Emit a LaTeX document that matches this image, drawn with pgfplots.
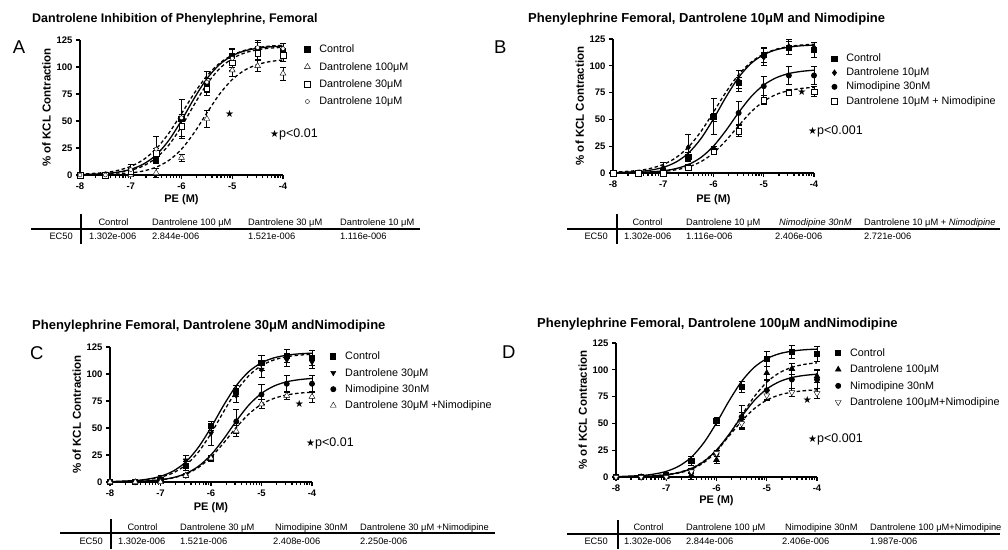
\documentclass[border=0pt]{standalone}
\usepackage{fontspec}
\setmainfont{Liberation Sans}
\newfontfamily\starfont{DejaVu Sans}
\usepackage{pgfplots}
\usepackage{pgfplotstable}
\pgfplotsset{compat=1.18}

% fitted curves
\pgfplotstableread{
x y
-8 0.35
-7.5 1.37
-7.25 2.70
-7 5.26
-6.75 10.1
-6.5 18.5
-6.25 32.1
-6 50.5
-5.75 71.0
-5.5 89.2
-5.25 102.3
-5 110.4
-4.75 115.0
-4.5 117.4
-4.25 118.7
-4 119.3
}\ctrlF
\pgfplotstableread{
x y
-8 0.67
-7.5 2.35
-7.25 4.35
-7 7.96
-6.75 14.2
-6.5 24.2
-6.25 38.7
-6 56.8
-5.75 75.6
-5.5 91.8
-5.25 103.5
-5 111.0
-4.75 115.5
-4.5 118.0
-4.25 119.4
-4 120.1
}\dtenF
\pgfplotstableread{
x y
-8 0.29
-7.5 1.13
-7.25 2.24
-7 4.38
-6.75 8.43
-6.5 15.7
-6.25 27.7
-6 44.9
-5.75 65.1
-5.5 84.1
-5.25 98.5
-5 107.8
-4.75 113.1
-4.5 116.0
-4.25 117.5
-4 118.2
}\dthirtyF
\pgfplotstableread{
x y
-8 0.12
-7.5 0.49
-7.25 0.97
-7 1.91
-6.75 3.74
-6.5 7.22
-6.25 13.5
-6 23.9
-5.75 39.2
-5.5 57.4
-5.25 74.9
-5 88.4
-4.75 97.2
-4.5 102.3
-4.25 105.1
-4 106.5
}\dhundredF
\pgfplotstableread{
x y
-8 0.13
-7.5 0.53
-7.25 1.06
-7 2.09
-6.75 4.08
-6.5 7.82
-6.25 14.5
-6 25.1
-5.75 39.8
-5.5 56.4
-5.25 71.3
-5 82.1
-4.75 88.9
-4.5 92.8
-4.25 94.8
-4 95.9
}\nimF
\pgfplotstableread{
x y
-8 0.10
-7.5 0.38
-7.25 0.76
-7 1.51
-6.75 2.96
-6.5 5.70
-6.25 10.6
-6 18.7
-5.75 30.4
-5.5 44.1
-5.25 57.1
-5 66.9
-4.75 73.3
-4.5 76.9
-4.25 78.9
-4 79.9
}\dtenNimF
\pgfplotstableread{
x y
-8 0.12
-7.5 0.50
-7.25 0.99
-7 1.96
-6.75 3.82
-6.5 7.30
-6.25 13.4
-6 23.1
-5.75 36.1
-5.5 50.5
-5.25 63.0
-5 72.0
-4.75 77.5
-4.5 80.6
-4.25 82.3
-4 83.1
}\dthirtyNimF
\pgfplotstableread{
x y
-8 0.14
-7.5 0.57
-7.25 1.12
-7 2.21
-6.75 4.29
-6.5 8.13
-6.25 14.8
-6 25.0
-5.75 38.3
-5.5 52.1
-5.25 63.7
-5 71.7
-4.75 76.5
-4.5 79.1
-4.25 80.5
-4 81.3
}\dhundredNimF

% mean +/- error
\pgfplotstableread{
x y e
-8 0 0
-7.5 0 0
-7 2 2
-6.5 15 4
-6 52 4
-5.5 84 5
-5 110 7
-4.5 117 6
-4 115 7
}\ctrlP
\pgfplotstableread{
x y e
-8 0 0
-7.5 0 0
-7 5 5
-6.5 24 12
-6 53 17
-5.5 86 10
-5 108 8
-4.5 118 7
-4 117 5
}\dtenP
\pgfplotstableread{
x y e
-8 0 0
-7.5 0 0
-7 3 3
-6.5 20 5
-6 45 11
-5.5 80 6
-5 104 7
-4.5 113 6
-4 111 6
}\dthirtyP
\pgfplotstableread{
x y e
-8 0 0
-7.5 0 0
-7 0 1
-6.5 2 4
-6 16 3
-5.5 52 8
-5 97 6
-4.5 101 5
-4 94 6
}\dhundredP
\pgfplotstableread{
x y e
-8 0 0
-7.5 0 0
-7 1 1
-6.5 6 2
-6 22 3
-5.5 56 11
-5 81 9
-4.5 91 8
-4 91 8
}\nimP
\pgfplotstableread{
x y e
-8 0 0
-7.5 0 0
-7 0 1
-6.5 5 2
-6 20 3
-5.5 39 5
-5 68 4
-4.5 75 3
-4 76 5
}\dtenNimP
\pgfplotstableread{
x y e
-8 0 0
-7.5 0 0
-7 0 1
-6.5 6 2
-6 22 2
-5.5 47 5
-5 72 4
-4.5 80 4
-4 79 5
}\dthirtyNimP
\pgfplotstableread{
x y e
-8 0 0
-7.5 0 0
-7 0 1
-6.5 5 2
-6 22 3
-5.5 50 4
-5 76 5
-4.5 79 4
-4 78 5
}\dhundredNimP

\pgfplotsset{
  panel/.style={
    scale only axis, xmin=-8, xmax=-4, ymin=0, ymax=125,
    axis x line*=bottom, axis y line*=left,
    axis line style={line width=2pt, -},
    xtick={-8,-7,-6,-5,-4}, ytick={0,25,50,75,100,125},
    minor xtick={-7.699,-7.523,-7.398,-7.301,-7.222,-7.155,-7.097,-7.046,
      -6.699,-6.523,-6.398,-6.301,-6.222,-6.155,-6.097,-6.046,
      -5.699,-5.523,-5.398,-5.301,-5.222,-5.155,-5.097,-5.046,
      -4.699,-4.523,-4.398,-4.301,-4.222,-4.155,-4.097,-4.046},
    tick align=outside, major tick length=4pt, minor tick length=3pt,
    tick style={black, line width=1.3pt},
    /pgf/number format/assume math mode=true,
    tick label style={font=\fontsize{9.5}{10}\selectfont\bfseries},
    clip=false,
    xlabel={PE (M)}, ylabel={\% of KCL Contraction},
    xlabel style={font=\fontsize{11}{12}\selectfont\bfseries, anchor=center},
    ylabel style={font=\fontsize{11.5}{13}\selectfont\bfseries, at={(axis description cs:-0.165,0.5)}, anchor=center},
    legend style={draw=none, fill=none, anchor=north west, font=\fontsize{10.8}{13}\selectfont,
      row sep=3pt, column sep=7pt},
    legend cell align=left,
  },
  pts/.style={only marks, black, mark options={solid, line width=0.9pt},
    error bars/y dir=both, error bars/y explicit,
    error bars/error bar style={line width=0.9pt, black},
    error bars/error mark options={rotate=90, mark size=3pt, line width=0.9pt, black}},
  fitsolid/.style={black, line width=1.3pt, smooth, no marks, forget plot},
  fitdash/.style={black, line width=1.3pt, smooth, no marks, dash pattern=on 3.5pt off 2.5pt, forget plot},
}
\tikzset{
  ttl/.style={font=\fontsize{13}{15}\selectfont\bfseries, inner sep=0pt},
  let/.style={font=\fontsize{18.5}{20}\selectfont, inner sep=0pt},
  tab/.style={font=\fontsize{9.3}{11}\selectfont, inner sep=0pt},
  pval/.style={font=\fontsize{12.5}{14}\selectfont, inner sep=0pt, anchor=base west},
  star/.style={font=\starfont\fontsize{10}{10}\selectfont, inner sep=0pt},
}

\begin{document}
\begin{tikzpicture}[x=1pt,y=1pt]
\useasboundingbox (0,0) rectangle (1008,-549);

% ---- A ----
\begin{axis}[panel, anchor=south west, at={(80pt,-175pt)}, width=203pt, height=135pt,
  xlabel style={at={(axis description cs:0.5,-0.185)}},
  legend style={at={(axis description cs:1.09,0.995)}, row sep=4pt}]
\addplot[fitsolid] table[x=x,y=y] {\ctrlF};
\addplot[fitdash] table[x=x,y=y] {\dhundredF};
\addplot[fitdash] table[x=x,y=y] {\dthirtyF};
\addplot[fitdash] table[x=x,y=y] {\dtenF};
\addplot[pts, mark=square*, mark size=2.6pt] table[x=x,y=y,y error=e] {\ctrlP};
\addlegendentry{Control}
\addplot[pts, mark=triangle*, mark size=3.4pt, mark options={fill=white}] table[x=x,y=y,y error=e] {\dhundredP};
\addlegendentry{Dantrolene 100μM}
\addplot[pts, mark=square*, mark size=2.8pt, mark options={fill=white}] table[x=x,y=y,y error=e] {\dthirtyP};
\addlegendentry{Dantrolene 30μM}
\addplot[pts, mark=*, mark size=2pt, mark options={fill=white}] table[x=x,y=y,y error=e] {\dtenP};
\addlegendentry{Dantrolene 10μM}
\node[star] at (axis cs:-5.05,57) {★};
\end{axis}

% ---- B ----
\begin{axis}[panel, anchor=south west, at={(613pt,-173pt)}, width=201pt, height=134pt,
  xlabel style={at={(axis description cs:0.5,-0.2)}},
  legend style={at={(axis description cs:1.072,0.92)}, row sep=0.8pt}]
\addplot[fitsolid] table[x=x,y=y] {\ctrlF};
\addplot[fitdash] table[x=x,y=y] {\dtenF};
\addplot[fitsolid] table[x=x,y=y] {\nimF};
\addplot[fitdash] table[x=x,y=y] {\dtenNimF};
\addplot[pts, mark=square*, mark size=2.6pt] table[x=x,y=y,y error=e] {\ctrlP};
\addlegendentry{Control}
\addplot[pts, mark=diamond*, mark size=2.6pt] table[x=x,y=y,y error=e] {\dtenP};
\addlegendentry{Dantrolene 10μM}
\addplot[pts, mark=*, mark size=2.5pt] table[x=x,y=y,y error=e] {\nimP};
\addlegendentry{Nimodipine 30nM}
\addplot[pts, mark=square*, mark size=2.8pt, mark options={fill=white}] table[x=x,y=y,y error=e] {\dtenNimP};
\addlegendentry{Dantrolene 10μM + Nimodipine}
\node[star] at (axis cs:-4.24,76) {★};
\end{axis}

% ---- C ----
\begin{axis}[panel, anchor=south west, at={(110pt,-482pt)}, width=202pt, height=135pt,
  xlabel style={at={(axis description cs:0.5,-0.193)}},
  legend style={at={(axis description cs:1.075,0.995)}}]
\addplot[fitsolid] table[x=x,y=y] {\ctrlF};
\addplot[fitdash] table[x=x,y=y] {\dthirtyF};
\addplot[fitsolid] table[x=x,y=y] {\nimF};
\addplot[fitdash] table[x=x,y=y] {\dthirtyNimF};
\addplot[pts, mark=square*, mark size=2.6pt] table[x=x,y=y,y error=e] {\ctrlP};
\addlegendentry{Control}
\addplot[pts, mark=triangle*, mark size=3pt, mark options={rotate=180}] table[x=x,y=y,y error=e] {\dthirtyP};
\addlegendentry{Dantrolene 30μM}
\addplot[pts, mark=*, mark size=2.5pt] table[x=x,y=y,y error=e] {\nimP};
\addlegendentry{Nimodipine 30nM}
\addplot[pts, mark=triangle*, mark size=3.4pt, mark options={fill=white}] table[x=x,y=y,y error=e] {\dthirtyNimP};
\addlegendentry{Dantrolene 30μM +Nimodipine}
\node[star] at (axis cs:-4.25,72) {★};
\end{axis}

% ---- D ----
\begin{axis}[panel, anchor=south west, at={(616pt,-477pt)}, width=201pt, height=134pt,
  xlabel style={at={(axis description cs:0.5,-0.175)}},
  legend style={at={(axis description cs:1.075,0.99)}}]
\addplot[fitsolid] table[x=x,y=y] {\ctrlF};
\addplot[fitdash] table[x=x,y=y] {\dhundredF};
\addplot[fitsolid] table[x=x,y=y] {\nimF};
\addplot[fitdash] table[x=x,y=y] {\dhundredNimF};
\addplot[pts, mark=square*, mark size=2.6pt] table[x=x,y=y,y error=e] {\ctrlP};
\addlegendentry{Control}
\addplot[pts, mark=triangle*, mark size=3pt] table[x=x,y=y,y error=e] {\dhundredP};
\addlegendentry{Dantrolene 100μM}
\addplot[pts, mark=*, mark size=2.5pt] table[x=x,y=y,y error=e] {\nimP};
\addlegendentry{Nimodipine 30nM}
\addplot[pts, mark=triangle*, mark size=3.4pt, mark options={fill=white, rotate=180}] table[x=x,y=y,y error=e] {\dhundredNimP};
\addlegendentry{Dantrolene 100μM+Nimodipine}
\node[star] at (axis cs:-4.19,72) {★};
\end{axis}

% titles and panel letters
\node[ttl, anchor=base west, font=\fontsize{12.5}{14}\selectfont\bfseries] at (32,-22.3) {Dantrolene Inhibition of Phenylephrine, Femoral};
\node[ttl, anchor=base west] at (528,-22.5) {Phenylephrine Femoral, Dantrolene 10μM and Nimodipine};
\node[ttl, anchor=base west] at (32,-329.3) {Phenylephrine Femoral, Dantrolene 30μM andNimodipine};
\node[ttl, anchor=base west] at (537,-327.7) {Phenylephrine Femoral, Dantrolene 100μM andNimodipine};
\node[let, anchor=base west] at (12.7,-53.3) {A};
\node[let, anchor=base west] at (494,-53.3) {B};
\node[let, anchor=base west] at (30,-359.5) {C};
\node[let, anchor=base west] at (502,-358.3) {D};

% p values
\node[pval] at (270,-137.5) {{\starfont\fontsize{10}{10}\selectfont ★}p<0.01};
\node[pval] at (808,-134.5) {{\starfont\fontsize{10}{10}\selectfont ★}p<0.001};
\node[pval] at (306,-446) {{\starfont\fontsize{10}{10}\selectfont ★}p<0.01};
\node[pval] at (808,-442) {{\starfont\fontsize{10}{10}\selectfont ★}p<0.001};

% EC50 table A
\draw[line width=1.4pt] (31,-229) -- (420,-229);
\draw[line width=1.4pt] (81,-214) -- (81,-244);
\node[tab, anchor=base east] at (73,-239.3) {EC50};
\node[tab, anchor=base] at (113.5,-225.5) {Control};
\node[tab, anchor=base west] at (152,-225.5) {Dantrolene 100 μM};
\node[tab, anchor=base west] at (248,-225.5) {Dantrolene 30 μM};
\node[tab, anchor=base west] at (340,-225.5) {Dantrolene 10 μM};
\node[tab, anchor=base west] at (89,-239.3) {1.302e-006};
\node[tab, anchor=base west] at (152,-239.3) {2.844e-006};
\node[tab, anchor=base west] at (248,-239.3) {1.521e-006};
\node[tab, anchor=base west] at (340,-239.3) {1.116e-006};

% EC50 table B
\draw[line width=1.4pt] (567,-229) -- (1000,-229);
\draw[line width=1.4pt] (617,-214) -- (617,-244);
\node[tab, anchor=base east] at (608,-239) {EC50};
\node[tab, anchor=base] at (647.5,-225) {Control};
\node[tab, anchor=base west] at (686,-225) {Dantrolene 10 μM};
\node[tab, anchor=base west] at (779,-225) {\itshape Nimodipine 30nM};
\node[tab, anchor=base west] at (864,-225) {Dantrolene 10 μM + \textit{Nimodipine}};
\node[tab, anchor=base west] at (624,-239) {1.302e-006};
\node[tab, anchor=base west] at (686,-239) {1.116e-006};
\node[tab, anchor=base west] at (775,-239) {2.406e-006};
\node[tab, anchor=base west] at (864,-239) {2.721e-006};

% EC50 table C
\draw[line width=1.4pt] (60,-533) -- (495,-533);
\draw[line width=1.4pt] (111,-519) -- (111,-549);
\node[tab, anchor=base east] at (103,-544) {EC50};
\node[tab, anchor=base] at (142.5,-530) {Control};
\node[tab, anchor=base west] at (180,-530) {Dantrolene 30 μM};
\node[tab, anchor=base west] at (275,-530) {Nimodipine 30nM};
\node[tab, anchor=base west] at (360,-530) {Dantrolene 30 μM +Nimodipine};
\node[tab, anchor=base west] at (118,-544) {1.302e-006};
\node[tab, anchor=base west] at (180,-544) {1.521e-006};
\node[tab, anchor=base west] at (273,-544) {2.408e-006};
\node[tab, anchor=base west] at (360,-544) {2.250e-006};

% EC50 table D
\draw[line width=1.4pt] (567,-534) -- (1000,-534);
\draw[line width=1.4pt] (618,-520) -- (618,-549);
\node[tab, anchor=base east] at (608,-544) {EC50};
\node[tab, anchor=base] at (648.5,-530) {Control};
\node[tab, anchor=base west] at (686,-530) {Dantrolene 100 μM};
\node[tab, anchor=base west] at (785,-530) {Nimodipine 30nM};
\node[tab, anchor=base west] at (870,-530) {Dantrolene 100 μM+Nimodipine};
\node[tab, anchor=base west] at (624,-544) {1.302e-006};
\node[tab, anchor=base west] at (686,-544) {2.844e-006};
\node[tab, anchor=base west] at (782,-544) {2.406e-006};
\node[tab, anchor=base west] at (870,-544) {1.987e-006};
\end{tikzpicture}
\end{document}
